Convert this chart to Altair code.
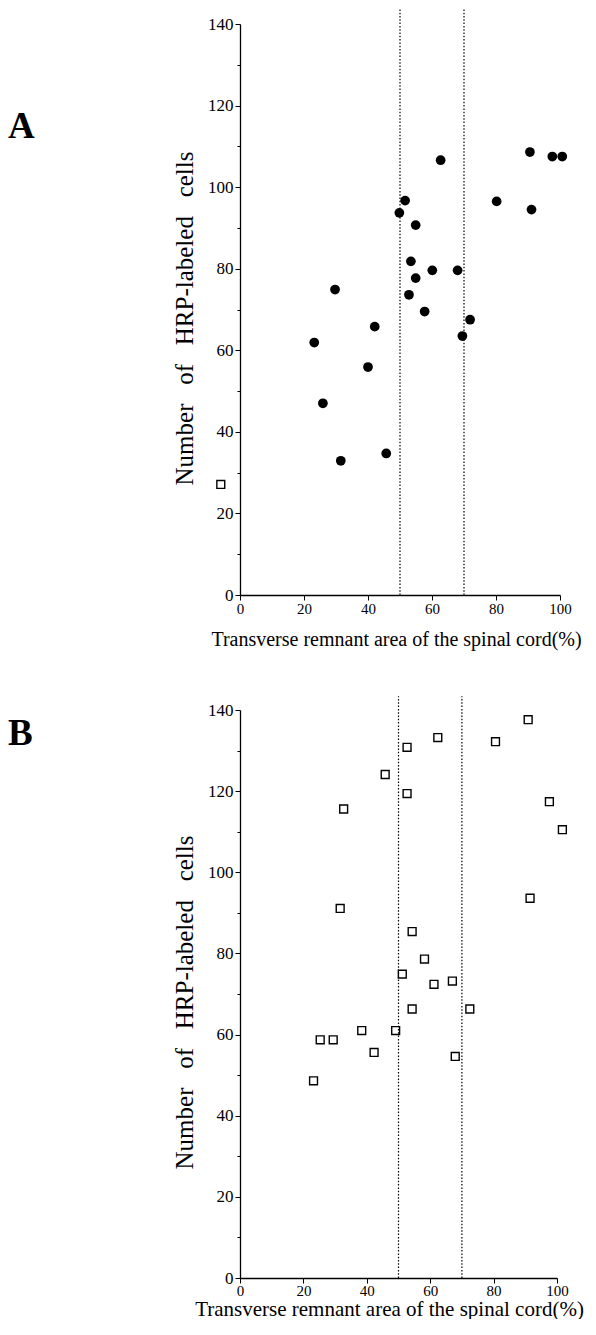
import altair as alt
import pandas as pd

# ---- data ----
# Panel A: filled circles
A_x = [90.6, 97.6, 100.7, 62.7, 51.6, 80.2, 91.1, 49.8, 54.9, 53.4, 60.1, 68.0,
       54.9, 29.7, 52.8, 57.7, 71.9, 42.1, 69.5, 23.2, 40.0, 25.9, 45.7, 31.5]
A_y = [108.6, 107.5, 107.5, 106.6, 96.7, 96.5, 94.5, 93.7, 90.7, 81.8, 79.6, 79.6,
       77.7, 74.9, 73.6, 69.5, 67.5, 65.8, 63.5, 61.9, 55.9, 47.0, 34.7, 32.9]
# Panel A: the lone open square left of the axis
A_sq_x = [-6.0]
A_sq_y = [27.1]
# Panel B: open squares
B_x = [90.9, 62.4, 80.6, 52.7, 45.8, 52.7, 97.6, 32.7, 101.7, 91.5, 31.6, 54.3, 58.2,
       51.2, 67.0, 61.2, 54.3, 72.5, 38.4, 49.1, 25.3, 29.4, 42.3, 67.9, 23.2]
B_y = [137.6, 133.2, 132.2, 130.8, 124.1, 119.4, 117.4, 115.6, 110.5, 93.6, 91.1, 85.4, 78.6,
       74.9, 73.2, 72.4, 66.3, 66.3, 61.0, 61.0, 58.7, 58.7, 55.6, 54.6, 48.6]
# dotted reference lines
cut_x = [50, 70]
x_ticks = list(range(0, 101, 10))
y_ticks = list(range(0, 141, 10))
x_title = "Transverse remnant area of the spinal cord(%)"
y_title = "Number\u00a0\u00a0\u00a0of\u00a0\u00a0\u00a0HRP-labeled\u00a0\u00a0\u00a0cells"

FONT = "Liberation Serif"
MAJOR = "datum.value % 20 === 0"


def xaxis(title_size, title_pad, label_pad, title_x):
    return alt.Axis(values=x_ticks, labelExpr=MAJOR + " ? datum.label : ''",
                    tickSize={"condition": {"test": MAJOR, "value": 5}, "value": 3},
                    grid=False, labelFont=FONT, titleFont=FONT, titleFontWeight="normal",
                    labelFontSize=15, labelPadding=label_pad, labelFlush=False,
                    domainColor="black", domainWidth=1.3, tickColor="black",
                    labelColor="black", titleColor="black",
                    title=x_title, titleFontSize=title_size, titlePadding=title_pad,
                    titleX=title_x)


def yaxis(title_y):
    return alt.Axis(values=y_ticks, labelExpr=MAJOR + " ? datum.label : ''",
                    tickSize={"condition": {"test": MAJOR, "value": 5}, "value": 3},
                    grid=False, labelFont=FONT, titleFont=FONT, titleFontWeight="normal",
                    labelFontSize=17, labelPadding=2, labelFlush=False,
                    domainColor="black", domainWidth=1.3, tickColor="black",
                    labelColor="black", titleColor="black",
                    title=y_title, titleFontSize=25, titlePadding=10, titleY=title_y)


def panel(letter, pts, shape_filled, extra_sq, width, height, rule_top, letter_y,
          xt_size, xt_pad, label_pad, title_x, title_y):
    xs = alt.Scale(domain=[0, 100], nice=False)
    ys = alt.Scale(domain=[0, 140], nice=False)
    layers = []
    rules = alt.Chart(pd.DataFrame({"x": cut_x})).mark_rule(
        color="black", strokeWidth=1.2, strokeDash=[1.5, 1.8]
    ).encode(
        x=alt.X("x:Q", scale=xs, axis=xaxis(xt_size, xt_pad, label_pad, title_x)),
        y=alt.YDatum(0, scale=ys, axis=yaxis(title_y)),
        y2=alt.Y2Datum(rule_top),
    )
    layers.append(rules)
    df = pd.DataFrame(pts)
    if shape_filled:
        m = alt.Chart(df).mark_point(shape="circle", filled=True, color="black", size=95, opacity=1)
    else:
        m = alt.Chart(df).mark_point(shape="square", filled=False, color="black", size=62,
                                     strokeWidth=1.4, opacity=1)
    layers.append(m.encode(x=alt.X("x:Q", scale=xs), y=alt.Y("y:Q", scale=ys)))
    if extra_sq is not None:
        layers.append(alt.Chart(pd.DataFrame(extra_sq)).mark_point(
            shape="square", filled=False, color="black", size=62, strokeWidth=1.4, opacity=1
        ).encode(x=alt.X("x:Q", scale=xs), y=alt.Y("y:Q", scale=ys)))
    layers.append(alt.Chart(pd.DataFrame({"t": [letter]})).mark_text(
        font=FONT, fontSize=37, fontWeight="bold", align="left", baseline="alphabetic", color="black"
    ).encode(text="t:N", x=alt.value(-232), y=alt.value(letter_y)))
    return alt.layer(*layers).properties(width=width, height=height)


pA = panel("A", {"x": A_x, "y": A_y}, True, {"x": A_sq_x, "y": A_sq_y},
           320, 571, 143.75, 113.7, 20, 13, 1, 156, 294)
pB = panel("B", {"x": B_x, "y": B_y}, False, None,
           317, 568, 143.4, 35.3, 21, 0, 0, 149, 292)

chart = alt.vconcat(pA, pB, spacing=46).properties(
    padding=0, background="white"
).configure_view(stroke=None)

chart.save("out.html", embed_options={"renderer": "svg", "actions": False})
